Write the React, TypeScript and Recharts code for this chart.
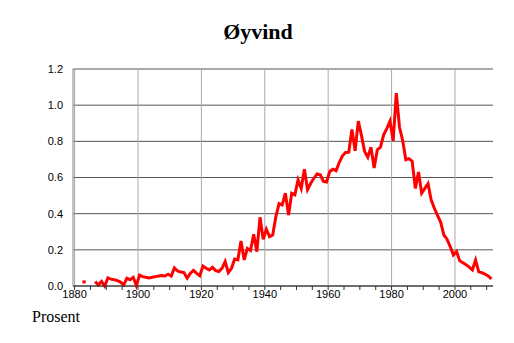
import { LineChart, Line, XAxis, YAxis, CartesianGrid, ReferenceLine } from "recharts";

// share of population named Øyvind, in percent, one value per year from 1880
const firstYear = 1880;
const share: (number | null)[] = [
  null, null, 0.02, 0.025, null, null, 0.025, 0.005, 0.025, 0.0,
  0.045, 0.038, 0.035, 0.03, 0.022, 0.006, 0.043, 0.035, 0.048, 0.002,
  0.06, 0.052, 0.048, 0.045, 0.048, 0.052, 0.055, 0.058, 0.055, 0.065,
  0.055, 0.1, 0.083, 0.077, 0.074, 0.043, 0.07, 0.087, 0.07, 0.057,
  0.11, 0.098, 0.089, 0.103, 0.085, 0.08, 0.098, 0.135, 0.074, 0.098,
  0.149, 0.144, 0.249, 0.144, 0.208, 0.196, 0.286, 0.19, 0.38, 0.258,
  0.314, 0.273, 0.282, 0.384, 0.456, 0.448, 0.513, 0.393, 0.513, 0.504,
  0.587, 0.54, 0.646, 0.533, 0.568, 0.596, 0.62, 0.615, 0.578, 0.575,
  0.633, 0.646, 0.638, 0.683, 0.72, 0.738, 0.74, 0.866, 0.748, 0.912,
  0.833, 0.744, 0.712, 0.768, 0.653, 0.753, 0.768, 0.836, 0.87, 0.912,
  0.803, 1.067, 0.878, 0.805, 0.698, 0.704, 0.69, 0.54, 0.63, 0.513,
  0.54, 0.566, 0.476, 0.43, 0.39, 0.352, 0.282, 0.259, 0.218, 0.172,
  0.19, 0.14, 0.129, 0.118, 0.104, 0.089, 0.144, 0.079, 0.074, 0.065,
  0.055, 0.039,
];

const xTicks = [
  1880, 1885, 1890, 1895, 1900, 1905, 1910, 1915, 1920, 1925, 1930, 1935, 1940,
  1945, 1950, 1955, 1960, 1965, 1970, 1975, 1980, 1985, 1990, 1995, 2000, 2005, 2010,
];
const labelYears = [1880, 1900, 1920, 1940, 1960, 1980, 2000];
const yTicks = [0, 0.2, 0.4, 0.6, 0.8, 1.0, 1.2];

// values are plotted at mid-year
const data = share.map((v, i) => ({ year: firstYear + i + 0.5, value: v }));

const tickFont = { fontFamily: "Liberation Sans, Arial, sans-serif", fontSize: 11, fill: "#000" };

export default function App() {
  return (
    <div style={{ position: "absolute", left: 0, top: 0, width: 514, height: 343, background: "#fff" }}>
      <div
        style={{
          position: "absolute",
          top: 19,
          left: 0,
          width: 516,
          textAlign: "center",
          fontFamily: "Liberation Serif, serif",
          fontWeight: "bold",
          fontSize: 22,
        }}
      >
        Øyvind
      </div>
      <LineChart width={514} height={343} data={data} margin={{ top: 69, right: 21, bottom: 37, left: 33 }}>
        <CartesianGrid vertical={false} stroke="#555" />
        {labelYears.map((y) => (
          <ReferenceLine key={y} x={y} stroke="#aaa" />
        ))}
        <XAxis
          type="number"
          dataKey="year"
          domain={[1879.5, 2012]}
          ticks={xTicks}
          interval={0}
          allowDataOverflow
          tickFormatter={(v: number) => (labelYears.includes(v) ? String(v) : "")}
          tick={tickFont}
          tickSize={4}
          tickMargin={0}
          height={20}
          axisLine={{ stroke: "#333" }}
          tickLine={{ stroke: "#333" }}
        />
        <YAxis
          type="number"
          domain={[0, 1.2]}
          ticks={yTicks}
          interval={0}
          tickFormatter={(v: number) => v.toFixed(1)}
          tick={tickFont}
          tickLine={false}
          axisLine={{ stroke: "#888" }}
          width={40}
          tickMargin={4}
        />
        <Line
          type="linear"
          dataKey="value"
          stroke="#ff0000"
          strokeWidth={3}
          dot={false}
          connectNulls={false}
          isAnimationActive={false}
        />
      </LineChart>
      <div
        style={{
          position: "absolute",
          top: 308,
          left: 32,
          fontFamily: "Liberation Serif, serif",
          fontSize: 16,
        }}
      >
        Prosent
      </div>
    </div>
  );
}
